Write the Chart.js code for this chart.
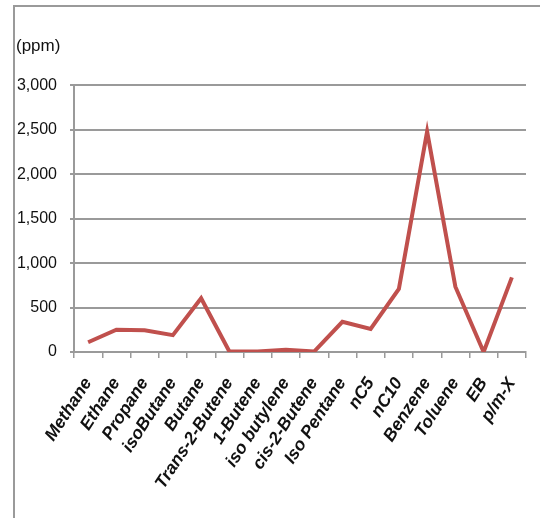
<!DOCTYPE html>
<html lang="en">
<head>
  <meta charset="UTF-8" />
  <script src="https://cdn.jsdelivr.net/npm/chart.js@4.4.0/dist/chart.umd.min.js"></script>
  <style>
    body { margin: 0; background: #fff; }
    .moldura {
      position: absolute; left: 13px; top: 5px; width: 540px; height: 511px;
      border-top: 2px solid #9a9a9a; border-left: 2px solid #9a9a9a; border-bottom: 1px solid #e6e6e6;
    }
    .grafico { position: absolute; left: 0; top: 0; width: 540px; height: 518px; }
  </style>
</head>
<body>
  <div class="moldura"></div>
  <div class="grafico">
    <canvas id="grafico" width="540" height="518"></canvas>
  </div>

<script>
  var compostos = ['Methane', 'Ethane', 'Propane', 'isoButane', 'Butane', 'Trans-2-Butene', '1-Butene',
    'iso butylene', 'cis-2-Butene', 'Iso Pentane', 'nC5', 'nC10', 'Benzene', 'Toluene', 'EB', 'p/m-X'];
  var concentracao = [110, 250, 245, 190, 605, 5, 5, 25, 5, 340, 260, 710, 2480, 735, 0, 840];
  var ticksY = [0, 500, 1000, 1500, 2000, 2500, 3000];

  var fonte = '"Liberation Sans", Arial, sans-serif';
  var corGrade = '#9a9a9a';

  var config = {
    type: 'line',
    data: {
      labels: compostos,
      datasets: [{
        data: concentracao,
        borderColor: '#C0504D',
        borderWidth: 4,
        pointRadius: 0,
        tension: 0,
        fill: false
      }]
    },
    options: {
      responsive: false,
      animation: false,
      layout: { padding: { left: 16, right: 14, top: 0, bottom: 0 } },
      plugins: {
        legend: { display: false },
        tooltip: { enabled: false },
        title: {
          display: true,
          text: '(ppm)',
          align: 'start',
          color: '#111',
          font: { family: fonte, size: 17, weight: 'normal' },
          padding: { top: 36, bottom: 29 }
        }
      },
      scales: {
        y: {
          min: 0,
          max: 3000,
          afterBuildTicks: function (scale) {
            scale.ticks = ticksY.map(function (v) { return { value: v }; });
          },
          afterFit: function (scale) { scale.width = 58; },
          border: { display: true, color: corGrade, width: 2 },
          grid: { color: corGrade, lineWidth: 2, tickLength: 4 },
          ticks: {
            color: '#111',
            padding: 13,
            font: { family: fonte, size: 16 },
            callback: function (v) { return v.toLocaleString('en-US'); }
          }
        },
        x: {
          offset: true,
          afterFit: function (scale) {
            scale.height = 166;
            scale.paddingRight = 0;
          },
          border: { display: true, color: corGrade, width: 2 },
          grid: { drawOnChartArea: false, color: corGrade, lineWidth: 1.5, tickLength: 6, offset: true },
          ticks: {
            autoSkip: false,
            minRotation: 57,
            maxRotation: 57,
            padding: 16,
            color: '#111',
            font: { family: fonte, size: 17.5, weight: 'bold', style: 'italic' }
          }
        }
      }
    }
  };

  new Chart(document.getElementById('grafico'), config);
</script>
</body>
</html>
